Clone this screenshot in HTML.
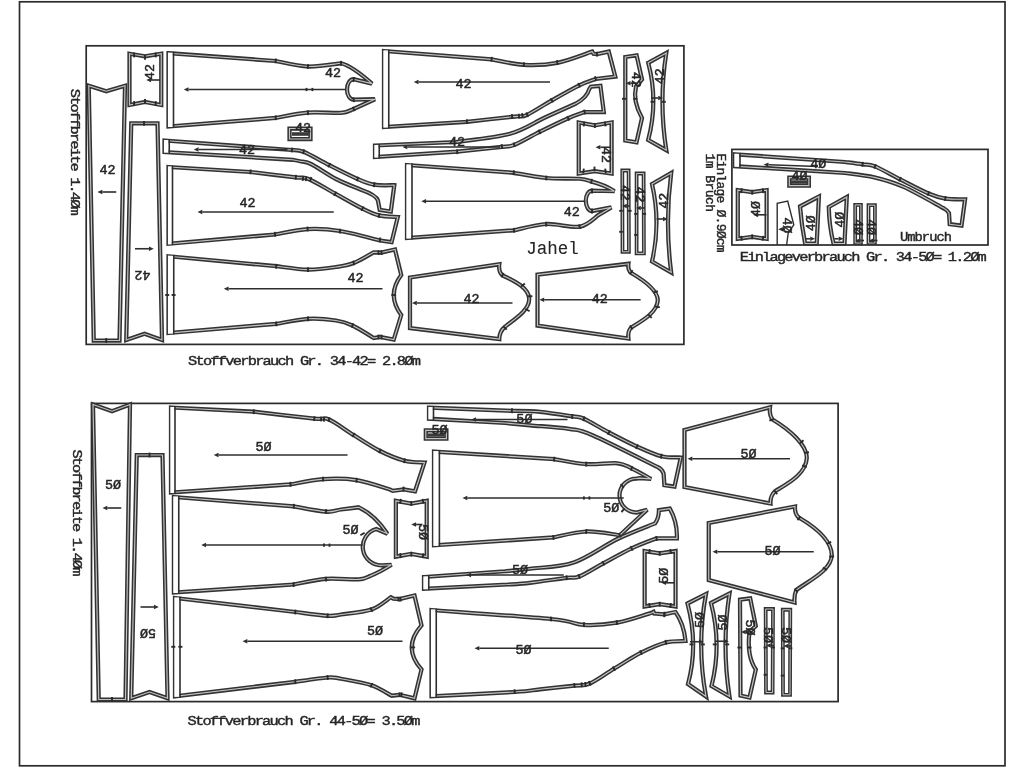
<!DOCTYPE html>
<html><head><meta charset="utf-8"><style>
html,body{margin:0;padding:0;background:#fff;width:1024px;height:768px;overflow:hidden}
svg{display:block;filter:blur(0.35px)}
.t{font-family:"Liberation Mono",monospace;fill:#262626;stroke:#262626;stroke-width:0.5}
.fr{fill:none;stroke:#2b2b2b;stroke-width:1.7}
.o{fill:none;stroke:#333;stroke-width:4.25;stroke-linejoin:miter;stroke-miterlimit:3}
.i{fill:none;stroke:#c4c4c4;stroke-width:1.15;stroke-linejoin:miter;stroke-miterlimit:3}
.l{fill:none;stroke:#2e2e2e;stroke-width:1.6}
.s{fill:none;stroke:#2e2e2e;stroke-width:1.4}
.ar{fill:#2e2e2e}
.tk{stroke:#2a2a2a;stroke-width:1.9;fill:none}
.o.n{stroke-width:3.8}
.i.n2{stroke-width:1.0}
</style></head><body>
<svg width="1024" height="768" viewBox="0 0 1024 768">

<rect class="fr" x="19.5" y="1.8" width="985.5" height="764"/>
<rect class="fr" x="86.2" y="45.8" width="597.7" height="298.6"/>
<rect class="fr" x="731.9" y="149.4" width="256.1" height="95.6"/>
<rect class="fr" x="91.5" y="403.4" width="746.6" height="298.2"/>
<g class="o">
<path d="M88.75,85.75 L106.25,91.25 L125,85.75 L119.5,340.5 L93.75,340.5 Z"/>
<path d="M129.5,53.75 L145,56.25 L161.25,53.75 L161.25,105 L145,102 L129.5,105 Z"/>
<path d="M168.5,53.2 L275.7,61 C281.07,61.92 297.02,66.12 307.90,66.50 C318.78,66.88 335.48,63.83 341.00,63.30 Q352,66 372,83.6 L353.5,79.2 A6.5,10.25 0 0 0 353.5,99.7 L375,99.2 L352.5,109.5 C350.55,110.07 348.23,112.38 340.80,112.90 C333.37,113.42 318.75,111.77 307.90,112.60 C297.05,113.43 281.07,117.02 275.70,117.90 L168.5,126.5 Z"/>
<path d="M131.25,123.25 L157.5,123.25 L162,340 L144.5,333.75 L126.25,340 Z"/>
<path d="M164.5,140.5 L292,150 C293.93,150.30 297.38,149.27 303.60,151.80 C309.82,154.33 320.30,160.67 329.30,165.20 C338.30,169.73 350.12,175.75 357.60,179.00 C365.08,182.25 368.08,183.67 374.20,184.70 C380.32,185.73 390.95,185.12 394.30,185.20 L390.8,211.5 L379.7,209.8 L377.9,200.4 Q376,195 361,189.8 C356.83,188.00 344.33,183.30 336.00,179.00 C327.67,174.70 317.00,166.97 311.00,164.00 C305.00,161.03 303.08,161.90 300.00,161.20 C296.92,160.50 293.75,160.03 292.50,159.80 L164.5,152 Z"/>
<path d="M289.5,128.5 L310.5,128.5 L310.5,139 L289.5,139 Z"/>
<path d="M168.5,167 L250.5,172 C258.05,172.90 286.13,176.23 295.80,177.40 C305.47,178.57 301.93,176.30 308.50,179.00 C315.07,181.70 326.20,188.67 335.20,193.60 C344.20,198.53 355.18,204.97 362.50,208.60 C369.82,212.23 373.22,214.00 379.10,215.40 C384.98,216.80 394.68,216.73 397.80,217.00 L391.6,242.2 L380,240.5 C373.33,238.92 352.03,232.90 340.00,231.00 C327.97,229.10 318.63,228.52 307.80,229.10 C296.97,229.68 280.47,233.60 275.00,234.50 L168.5,243.75 Z"/>
<path d="M168.5,256.25 L276.25,266.2 C281.54,266.77 298.04,269.47 308.00,269.60 C317.96,269.73 328.38,268.10 336.00,267.00 C343.62,265.90 347.41,265.45 353.70,263.00 C359.99,260.55 370.41,254.08 373.75,252.30 L381.25,252.5 L395,249.5 L401.25,275 Q386.3,295 401.25,315 L393.75,339.5 L380,337 L373.75,338 C370.21,335.92 358.79,328.42 352.50,325.50 C346.21,322.58 343.42,321.62 336.00,320.50 C328.58,319.38 317.96,318.23 308.00,318.80 C298.04,319.37 281.54,323.05 276.25,323.90 L168.5,333 Z"/>
<path d="M384,51 L491.6,59.4 C496.97,60.30 512.85,64.23 523.80,64.80 C534.75,65.37 545.90,65.00 557.30,62.80 C568.70,60.60 586.38,53.47 592.20,51.60 L593.5,53.8 L597,54.1 L608.75,51.6 L615.3,76.6 L595.6,79 C592.87,80.07 586.50,81.83 579.20,85.40 C571.90,88.97 560.47,95.50 551.80,100.40 C543.13,105.30 532.67,112.13 527.20,114.80 C521.73,117.47 521.52,116.07 519.00,116.40 C516.48,116.73 520.77,115.90 512.10,116.80 C503.43,117.70 474.52,120.97 467.00,121.80 L384,127 Z"/>
<path d="M375,145.5 L456.25,142 C465.21,140.62 495.21,137.83 510.00,133.75 C524.79,129.67 534.00,122.54 545.00,117.50 C556.00,112.46 570.83,105.83 576.00,103.50 Q587,97.5 589.4,88.8 L590.8,86.7 L600.4,85.8 L603.8,112 L584.6,112 C581.87,113.03 575.72,114.88 568.20,118.20 C560.68,121.52 548.50,127.45 539.50,131.90 C530.50,136.35 520.47,142.40 514.20,144.90 C507.93,147.40 511.40,145.78 501.90,146.90 C492.40,148.02 464.65,150.82 457.20,151.60 L375,157 Z"/>
<path d="M407,165 L513.75,172.8 C519.17,173.67 535.27,177.01 546.25,178.00 C557.23,178.99 572.14,178.18 579.60,178.75 C587.06,179.32 589.10,180.96 591.00,181.40 Q605,185 614.5,191.25 L592,190.7 A6.2,10.15 0 0 0 592,211 L611.4,207.4 L598.3,215.2 C595.18,217.12 588.27,225.23 579.60,226.70 C570.93,228.17 557.18,223.40 546.25,224.00 C535.32,224.60 519.38,229.25 514.00,230.30 L407,238 Z"/>
<path d="M410,277.5 L499.3,264.3 Q498.3,272 502.6,275.5 C515,281 529,288 529.2,299 C529.2,311 513,320 505.3,326.5 Q499.5,331 499.3,339 L410,328 Z"/>
<path d="M537.5,274.6 L628.4,263.8 Q627.5,270 631.25,273 C645,281 657.5,290 657.8,300 C657.5,313 640,322 631.25,327.5 Q627.5,331 628.4,338.5 L537.5,325.6 Z"/>
<path d="M578.75,122.5 L594.7,125.3 L611.6,122.5 L611.6,173.5 L594.7,171.25 L578.75,173.5 Z"/>
<path d="M625.3,57 L636.6,55.3 L642,79.5 L636,86.5 Q632.5,101 642,118 L636.5,142.3 L625.3,140.5 Z"/>
<path d="M648.2,62.8 L666.3,53 Q658.6,101 666.3,150.2 L648.2,140 Q658.5,101 648.2,62.8 Z"/>
<path d="M652,184 L671.2,173 Q664.7,222.5 671.2,272.5 L652,261.5 Q661,222.5 652,184 Z"/>
<path d="M735,154.3 L845,162 C847.93,162.38 857.60,163.57 862.60,164.30 C867.60,165.03 868.77,163.90 875.00,166.40 C881.23,168.90 891.08,174.78 900.00,179.30 C908.92,183.82 920.95,190.28 928.50,193.50 C936.05,196.72 939.20,197.63 945.30,198.60 C951.40,199.57 961.80,199.18 965.10,199.30 L961.5,225.7 L949.7,224.2 L949,213.2 Q947,210 944.6,208.8 C937.77,205.15 915.32,192.13 903.60,186.90 C891.88,181.67 884.07,179.72 874.30,177.40 C864.53,175.08 849.88,173.73 845.00,173.00 L735,166.2 Z"/>
<path d="M789.3,177.6 L808.9,177.6 L808.9,185.6 L789.3,185.6 Z"/>
<path d="M737.8,190.1 L752.2,192.2 L766.6,190.1 L766.6,238.9 L752.2,236.8 L737.8,238.9 Z"/>
<path d="M800,206.5 L818.9,196.5 L816.7,243.5 L805.1,243.5 Q801.5,225 800,206.5 Z"/>
<path d="M828.8,207 L846.8,197 L844.5,243.5 L833.5,243.5 Q829,225 828.8,207 Z"/>
<path d="M93,404.5 L112,411.25 L130,404.5 L125.5,699.5 L98.75,699.5 Z"/>
<path d="M136.75,455 L162.5,455 L167.5,698.25 L149.5,692 L131.25,698.25 Z"/>
<path d="M171,407.5 L253.75,411.7 C263.84,412.85 301.76,417.30 314.30,418.60 C326.84,419.90 322.47,416.77 329.00,419.50 C335.53,422.23 345.00,429.75 353.50,435.00 C362.00,440.25 371.50,446.72 380.00,451.00 C388.50,455.28 397.08,458.78 404.50,460.70 C411.92,462.62 421.17,462.20 424.50,462.50 L415,491.25 L403.75,489.5 L392.7,490.8 L390,489.5 C384.43,487.93 367.75,481.83 356.60,480.10 C345.45,478.37 334.12,478.38 323.10,479.10 C312.08,479.82 295.93,483.52 290.50,484.40 L171,492.5 Z"/>
<path d="M173.9,497 L293.8,506.4 C299.17,507.28 318.13,511.18 326.00,511.70 C333.87,512.22 335.55,510.23 341.00,509.50 C346.45,508.77 355.75,507.67 358.70,507.30 Q375,515 387.4,533.7 L376.3,529 A18.5,18.5 0 0 0 382.1,565.3 L391.5,564.75 Q380,572 370.4,575.9 C368.45,576.48 366.12,578.92 358.70,579.40 C351.28,579.88 336.75,577.95 325.90,578.80 C315.05,579.65 298.98,583.55 293.60,584.50 L173.9,592.5 Z"/>
<path d="M175,598 L295.3,612 C300.68,612.63 319.98,615.38 327.60,615.80 C335.22,616.22 333.70,615.53 341.00,614.50 C348.30,613.47 363.10,612.47 371.40,609.60 C379.70,606.73 387.57,599.35 390.80,597.30 L393.4,598.7 L399.5,599.1 L414.5,595.5 L421.5,625.4 Q402,647.5 421.5,669.4 L414.5,698.4 L399.5,694.8 L391.6,695.7 C388.23,693.95 379.83,688.03 371.40,685.20 C362.97,682.38 348.30,680.03 341.00,678.75 C333.70,677.47 335.22,676.99 327.60,677.50 C319.98,678.01 300.68,681.08 295.30,681.80 L175,696.25 Z"/>
<path d="M395.9,500.9 L411.25,503.6 L426.7,500.9 L426.7,556.6 L411.25,553.9 L395.9,556.6 Z"/>
<path d="M425.8,430.3 L446.4,430.3 L446.4,438.6 L425.8,438.6 Z"/>
<path d="M429,407.6 L512,410.9 C516.67,411.05 529.97,410.88 540.00,411.80 C550.03,412.72 564.88,415.24 572.20,416.40 C579.52,417.56 577.78,416.07 583.90,418.75 C590.02,421.43 600.05,427.86 608.90,432.50 C617.75,437.14 628.27,442.64 637.00,446.60 C645.73,450.56 653.95,454.43 661.25,456.25 C668.55,458.07 677.54,457.29 680.80,457.50 L674.5,486.7 L664.4,485.2 L663.6,473.4 Q662,469 658,467.2 C647.08,461.87 607.33,441.58 592.50,435.20 C577.67,428.82 579.42,430.55 569.00,428.90 C558.58,427.25 540.67,426.28 530.00,425.30 C519.33,424.32 509.17,423.38 505.00,423.00 L429,418.7 Z"/>
<path d="M434,451.6 L554.2,459.1 C559.54,459.93 575.70,463.40 586.25,464.10 C596.80,464.80 609.94,462.58 617.50,463.30 C625.06,464.02 626.00,465.80 631.60,468.40 C637.20,471.00 647.85,477.15 651.10,478.90 L639.4,478.1 L636.5,478.5 A17,17 0 0 0 636.5,512.5 L647.2,509.7 L619.8,535.2 C614.21,534.58 597.32,531.13 586.25,531.50 C575.18,531.87 558.88,536.42 553.40,537.40 L434,545.3 Z"/>
<path d="M424,577 L505,571.25 C509.17,570.83 518.54,570.21 530.00,568.75 C541.46,567.29 559.17,567.46 573.75,562.50 C588.33,557.54 603.96,545.52 617.50,539.00 C631.04,532.48 648.75,526.00 655.00,523.40 Q659,518 658.9,510.2 L669.8,508.6 Q677.5,522 676.9,538.3 L656.6,538.3 C652.43,539.98 640.47,544.23 631.60,548.40 C622.73,552.57 612.13,558.60 603.40,563.30 C594.67,568.00 585.32,574.18 579.20,576.60 C573.08,579.02 574.90,576.77 566.70,577.80 C558.50,578.83 539.87,581.68 530.00,582.80 C520.13,583.92 511.25,584.22 507.50,584.50 L424,588.75 Z"/>
<path d="M431.5,610 C451.42,611.50 525.60,616.52 551.00,619.00 C576.40,621.48 572.92,624.28 583.90,624.90 C594.88,625.52 606.17,624.53 616.90,622.70 C627.63,620.87 642.20,615.73 648.30,613.90 C654.40,612.07 652.63,612.07 653.50,611.70 L654.2,613.5 L664.4,614.3 L675.4,612 Q684,624 685.5,641 C682.23,641.25 673.32,640.55 665.90,642.50 C658.48,644.45 649.67,648.32 641.00,652.70 C632.33,657.08 622.43,663.67 613.90,668.80 C605.37,673.93 596.38,680.68 589.80,683.50 C583.22,686.32 582.70,684.73 574.40,685.70 C566.10,686.67 549.90,688.25 540.00,689.30 C530.10,690.35 533.08,690.84 515.00,692.00 C496.92,693.16 445.42,695.54 431.50,696.25 Z"/>
<path d="M684.5,430 L770,407.3 Q769,415 772.5,419.5 C790,430 807,445 806.8,458 C806,475 785,485 775,491.25 Q770,496 770.5,503.5 L684.5,487 Z"/>
<path d="M708.75,523 L795,506.5 Q794.5,514 798.75,517.5 C815,527 831.5,540 831.8,555 C831.5,570 810,580 796.25,590 Q794,595 794.5,602.5 L708.75,580 Z"/>
<path d="M644.65,551.05 L659.7,553.35 L675.55,551.05 L675.55,606.45 L659.7,604.15 L644.65,606.45 Z"/>
<path d="M687.5,603.5 L706,594 Q696.4,645 706,696.5 L688,684 Q698.6,645 687.5,603.5 Z"/>
<path d="M711,603 L729.5,593.5 Q721.5,645 729.5,696.5 L711.5,686 Q722,645 711,603 Z"/>
<path d="M740,599.7 L750.2,598.3 L755.8,626 L749.5,632 Q746.5,656 755.8,669.5 L749.5,697.5 L740.5,695.5 Z"/>
</g><g class="o n">
<path d="M622.3,170.5 L628.6,170.5 L628.9,251.8 L622.5,251.8 Z"/>
<path d="M636.6,173.5 L643.6,173.5 L643.9,253.4 L636.6,253.4 Z"/>
<path d="M855.2,204.9 L860.9,204.9 L860.9,243 L855.2,243 Z"/>
<path d="M868.5,205.2 L874.9,205.2 L874.9,243 L868.5,243 Z"/>
<path d="M765.65,609 L773,609 L772.6,692.5 L766,692.5 Z"/>
<path d="M782.75,609.75 L790.3,609.75 L790,694.8 L783,694.8 Z"/>
</g><g class="i">
<path d="M88.75,85.75 L106.25,91.25 L125,85.75 L119.5,340.5 L93.75,340.5 Z"/>
<path d="M129.5,53.75 L145,56.25 L161.25,53.75 L161.25,105 L145,102 L129.5,105 Z"/>
<path d="M168.5,53.2 L275.7,61 C281.07,61.92 297.02,66.12 307.90,66.50 C318.78,66.88 335.48,63.83 341.00,63.30 Q352,66 372,83.6 L353.5,79.2 A6.5,10.25 0 0 0 353.5,99.7 L375,99.2 L352.5,109.5 C350.55,110.07 348.23,112.38 340.80,112.90 C333.37,113.42 318.75,111.77 307.90,112.60 C297.05,113.43 281.07,117.02 275.70,117.90 L168.5,126.5 Z"/>
<path d="M131.25,123.25 L157.5,123.25 L162,340 L144.5,333.75 L126.25,340 Z"/>
<path d="M164.5,140.5 L292,150 C293.93,150.30 297.38,149.27 303.60,151.80 C309.82,154.33 320.30,160.67 329.30,165.20 C338.30,169.73 350.12,175.75 357.60,179.00 C365.08,182.25 368.08,183.67 374.20,184.70 C380.32,185.73 390.95,185.12 394.30,185.20 L390.8,211.5 L379.7,209.8 L377.9,200.4 Q376,195 361,189.8 C356.83,188.00 344.33,183.30 336.00,179.00 C327.67,174.70 317.00,166.97 311.00,164.00 C305.00,161.03 303.08,161.90 300.00,161.20 C296.92,160.50 293.75,160.03 292.50,159.80 L164.5,152 Z"/>
<path d="M289.5,128.5 L310.5,128.5 L310.5,139 L289.5,139 Z"/>
<path d="M168.5,167 L250.5,172 C258.05,172.90 286.13,176.23 295.80,177.40 C305.47,178.57 301.93,176.30 308.50,179.00 C315.07,181.70 326.20,188.67 335.20,193.60 C344.20,198.53 355.18,204.97 362.50,208.60 C369.82,212.23 373.22,214.00 379.10,215.40 C384.98,216.80 394.68,216.73 397.80,217.00 L391.6,242.2 L380,240.5 C373.33,238.92 352.03,232.90 340.00,231.00 C327.97,229.10 318.63,228.52 307.80,229.10 C296.97,229.68 280.47,233.60 275.00,234.50 L168.5,243.75 Z"/>
<path d="M168.5,256.25 L276.25,266.2 C281.54,266.77 298.04,269.47 308.00,269.60 C317.96,269.73 328.38,268.10 336.00,267.00 C343.62,265.90 347.41,265.45 353.70,263.00 C359.99,260.55 370.41,254.08 373.75,252.30 L381.25,252.5 L395,249.5 L401.25,275 Q386.3,295 401.25,315 L393.75,339.5 L380,337 L373.75,338 C370.21,335.92 358.79,328.42 352.50,325.50 C346.21,322.58 343.42,321.62 336.00,320.50 C328.58,319.38 317.96,318.23 308.00,318.80 C298.04,319.37 281.54,323.05 276.25,323.90 L168.5,333 Z"/>
<path d="M384,51 L491.6,59.4 C496.97,60.30 512.85,64.23 523.80,64.80 C534.75,65.37 545.90,65.00 557.30,62.80 C568.70,60.60 586.38,53.47 592.20,51.60 L593.5,53.8 L597,54.1 L608.75,51.6 L615.3,76.6 L595.6,79 C592.87,80.07 586.50,81.83 579.20,85.40 C571.90,88.97 560.47,95.50 551.80,100.40 C543.13,105.30 532.67,112.13 527.20,114.80 C521.73,117.47 521.52,116.07 519.00,116.40 C516.48,116.73 520.77,115.90 512.10,116.80 C503.43,117.70 474.52,120.97 467.00,121.80 L384,127 Z"/>
<path d="M375,145.5 L456.25,142 C465.21,140.62 495.21,137.83 510.00,133.75 C524.79,129.67 534.00,122.54 545.00,117.50 C556.00,112.46 570.83,105.83 576.00,103.50 Q587,97.5 589.4,88.8 L590.8,86.7 L600.4,85.8 L603.8,112 L584.6,112 C581.87,113.03 575.72,114.88 568.20,118.20 C560.68,121.52 548.50,127.45 539.50,131.90 C530.50,136.35 520.47,142.40 514.20,144.90 C507.93,147.40 511.40,145.78 501.90,146.90 C492.40,148.02 464.65,150.82 457.20,151.60 L375,157 Z"/>
<path d="M407,165 L513.75,172.8 C519.17,173.67 535.27,177.01 546.25,178.00 C557.23,178.99 572.14,178.18 579.60,178.75 C587.06,179.32 589.10,180.96 591.00,181.40 Q605,185 614.5,191.25 L592,190.7 A6.2,10.15 0 0 0 592,211 L611.4,207.4 L598.3,215.2 C595.18,217.12 588.27,225.23 579.60,226.70 C570.93,228.17 557.18,223.40 546.25,224.00 C535.32,224.60 519.38,229.25 514.00,230.30 L407,238 Z"/>
<path d="M410,277.5 L499.3,264.3 Q498.3,272 502.6,275.5 C515,281 529,288 529.2,299 C529.2,311 513,320 505.3,326.5 Q499.5,331 499.3,339 L410,328 Z"/>
<path d="M537.5,274.6 L628.4,263.8 Q627.5,270 631.25,273 C645,281 657.5,290 657.8,300 C657.5,313 640,322 631.25,327.5 Q627.5,331 628.4,338.5 L537.5,325.6 Z"/>
<path d="M578.75,122.5 L594.7,125.3 L611.6,122.5 L611.6,173.5 L594.7,171.25 L578.75,173.5 Z"/>
<path d="M625.3,57 L636.6,55.3 L642,79.5 L636,86.5 Q632.5,101 642,118 L636.5,142.3 L625.3,140.5 Z"/>
<path d="M648.2,62.8 L666.3,53 Q658.6,101 666.3,150.2 L648.2,140 Q658.5,101 648.2,62.8 Z"/>
<path d="M652,184 L671.2,173 Q664.7,222.5 671.2,272.5 L652,261.5 Q661,222.5 652,184 Z"/>
<path d="M735,154.3 L845,162 C847.93,162.38 857.60,163.57 862.60,164.30 C867.60,165.03 868.77,163.90 875.00,166.40 C881.23,168.90 891.08,174.78 900.00,179.30 C908.92,183.82 920.95,190.28 928.50,193.50 C936.05,196.72 939.20,197.63 945.30,198.60 C951.40,199.57 961.80,199.18 965.10,199.30 L961.5,225.7 L949.7,224.2 L949,213.2 Q947,210 944.6,208.8 C937.77,205.15 915.32,192.13 903.60,186.90 C891.88,181.67 884.07,179.72 874.30,177.40 C864.53,175.08 849.88,173.73 845.00,173.00 L735,166.2 Z"/>
<path d="M789.3,177.6 L808.9,177.6 L808.9,185.6 L789.3,185.6 Z"/>
<path d="M737.8,190.1 L752.2,192.2 L766.6,190.1 L766.6,238.9 L752.2,236.8 L737.8,238.9 Z"/>
<path d="M800,206.5 L818.9,196.5 L816.7,243.5 L805.1,243.5 Q801.5,225 800,206.5 Z"/>
<path d="M828.8,207 L846.8,197 L844.5,243.5 L833.5,243.5 Q829,225 828.8,207 Z"/>
<path d="M93,404.5 L112,411.25 L130,404.5 L125.5,699.5 L98.75,699.5 Z"/>
<path d="M136.75,455 L162.5,455 L167.5,698.25 L149.5,692 L131.25,698.25 Z"/>
<path d="M171,407.5 L253.75,411.7 C263.84,412.85 301.76,417.30 314.30,418.60 C326.84,419.90 322.47,416.77 329.00,419.50 C335.53,422.23 345.00,429.75 353.50,435.00 C362.00,440.25 371.50,446.72 380.00,451.00 C388.50,455.28 397.08,458.78 404.50,460.70 C411.92,462.62 421.17,462.20 424.50,462.50 L415,491.25 L403.75,489.5 L392.7,490.8 L390,489.5 C384.43,487.93 367.75,481.83 356.60,480.10 C345.45,478.37 334.12,478.38 323.10,479.10 C312.08,479.82 295.93,483.52 290.50,484.40 L171,492.5 Z"/>
<path d="M173.9,497 L293.8,506.4 C299.17,507.28 318.13,511.18 326.00,511.70 C333.87,512.22 335.55,510.23 341.00,509.50 C346.45,508.77 355.75,507.67 358.70,507.30 Q375,515 387.4,533.7 L376.3,529 A18.5,18.5 0 0 0 382.1,565.3 L391.5,564.75 Q380,572 370.4,575.9 C368.45,576.48 366.12,578.92 358.70,579.40 C351.28,579.88 336.75,577.95 325.90,578.80 C315.05,579.65 298.98,583.55 293.60,584.50 L173.9,592.5 Z"/>
<path d="M175,598 L295.3,612 C300.68,612.63 319.98,615.38 327.60,615.80 C335.22,616.22 333.70,615.53 341.00,614.50 C348.30,613.47 363.10,612.47 371.40,609.60 C379.70,606.73 387.57,599.35 390.80,597.30 L393.4,598.7 L399.5,599.1 L414.5,595.5 L421.5,625.4 Q402,647.5 421.5,669.4 L414.5,698.4 L399.5,694.8 L391.6,695.7 C388.23,693.95 379.83,688.03 371.40,685.20 C362.97,682.38 348.30,680.03 341.00,678.75 C333.70,677.47 335.22,676.99 327.60,677.50 C319.98,678.01 300.68,681.08 295.30,681.80 L175,696.25 Z"/>
<path d="M395.9,500.9 L411.25,503.6 L426.7,500.9 L426.7,556.6 L411.25,553.9 L395.9,556.6 Z"/>
<path d="M425.8,430.3 L446.4,430.3 L446.4,438.6 L425.8,438.6 Z"/>
<path d="M429,407.6 L512,410.9 C516.67,411.05 529.97,410.88 540.00,411.80 C550.03,412.72 564.88,415.24 572.20,416.40 C579.52,417.56 577.78,416.07 583.90,418.75 C590.02,421.43 600.05,427.86 608.90,432.50 C617.75,437.14 628.27,442.64 637.00,446.60 C645.73,450.56 653.95,454.43 661.25,456.25 C668.55,458.07 677.54,457.29 680.80,457.50 L674.5,486.7 L664.4,485.2 L663.6,473.4 Q662,469 658,467.2 C647.08,461.87 607.33,441.58 592.50,435.20 C577.67,428.82 579.42,430.55 569.00,428.90 C558.58,427.25 540.67,426.28 530.00,425.30 C519.33,424.32 509.17,423.38 505.00,423.00 L429,418.7 Z"/>
<path d="M434,451.6 L554.2,459.1 C559.54,459.93 575.70,463.40 586.25,464.10 C596.80,464.80 609.94,462.58 617.50,463.30 C625.06,464.02 626.00,465.80 631.60,468.40 C637.20,471.00 647.85,477.15 651.10,478.90 L639.4,478.1 L636.5,478.5 A17,17 0 0 0 636.5,512.5 L647.2,509.7 L619.8,535.2 C614.21,534.58 597.32,531.13 586.25,531.50 C575.18,531.87 558.88,536.42 553.40,537.40 L434,545.3 Z"/>
<path d="M424,577 L505,571.25 C509.17,570.83 518.54,570.21 530.00,568.75 C541.46,567.29 559.17,567.46 573.75,562.50 C588.33,557.54 603.96,545.52 617.50,539.00 C631.04,532.48 648.75,526.00 655.00,523.40 Q659,518 658.9,510.2 L669.8,508.6 Q677.5,522 676.9,538.3 L656.6,538.3 C652.43,539.98 640.47,544.23 631.60,548.40 C622.73,552.57 612.13,558.60 603.40,563.30 C594.67,568.00 585.32,574.18 579.20,576.60 C573.08,579.02 574.90,576.77 566.70,577.80 C558.50,578.83 539.87,581.68 530.00,582.80 C520.13,583.92 511.25,584.22 507.50,584.50 L424,588.75 Z"/>
<path d="M431.5,610 C451.42,611.50 525.60,616.52 551.00,619.00 C576.40,621.48 572.92,624.28 583.90,624.90 C594.88,625.52 606.17,624.53 616.90,622.70 C627.63,620.87 642.20,615.73 648.30,613.90 C654.40,612.07 652.63,612.07 653.50,611.70 L654.2,613.5 L664.4,614.3 L675.4,612 Q684,624 685.5,641 C682.23,641.25 673.32,640.55 665.90,642.50 C658.48,644.45 649.67,648.32 641.00,652.70 C632.33,657.08 622.43,663.67 613.90,668.80 C605.37,673.93 596.38,680.68 589.80,683.50 C583.22,686.32 582.70,684.73 574.40,685.70 C566.10,686.67 549.90,688.25 540.00,689.30 C530.10,690.35 533.08,690.84 515.00,692.00 C496.92,693.16 445.42,695.54 431.50,696.25 Z"/>
<path d="M684.5,430 L770,407.3 Q769,415 772.5,419.5 C790,430 807,445 806.8,458 C806,475 785,485 775,491.25 Q770,496 770.5,503.5 L684.5,487 Z"/>
<path d="M708.75,523 L795,506.5 Q794.5,514 798.75,517.5 C815,527 831.5,540 831.8,555 C831.5,570 810,580 796.25,590 Q794,595 794.5,602.5 L708.75,580 Z"/>
<path d="M644.65,551.05 L659.7,553.35 L675.55,551.05 L675.55,606.45 L659.7,604.15 L644.65,606.45 Z"/>
<path d="M687.5,603.5 L706,594 Q696.4,645 706,696.5 L688,684 Q698.6,645 687.5,603.5 Z"/>
<path d="M711,603 L729.5,593.5 Q721.5,645 729.5,696.5 L711.5,686 Q722,645 711,603 Z"/>
<path d="M740,599.7 L750.2,598.3 L755.8,626 L749.5,632 Q746.5,656 755.8,669.5 L749.5,697.5 L740.5,695.5 Z"/>
</g><g class="i n2">
<path d="M622.3,170.5 L628.6,170.5 L628.9,251.8 L622.5,251.8 Z"/>
<path d="M636.6,173.5 L643.6,173.5 L643.9,253.4 L636.6,253.4 Z"/>
<path d="M855.2,204.9 L860.9,204.9 L860.9,243 L855.2,243 Z"/>
<path d="M868.5,205.2 L874.9,205.2 L874.9,243 L868.5,243 Z"/>
<path d="M765.65,609 L773,609 L772.6,692.5 L766,692.5 Z"/>
<path d="M782.75,609.75 L790.3,609.75 L790,694.8 L783,694.8 Z"/>
</g>
<rect x="168.00" y="52.70" width="4.80" height="74.30" fill="#fff"/>
<path class="l" d="M173.5,51.80 L173.5,127.90"/>
<rect x="164.00" y="140.00" width="4.55" height="12.50" fill="#fff"/>
<path class="l" d="M169.25,139.10 L169.25,153.40"/>
<rect x="168.00" y="166.50" width="3.80" height="77.75" fill="#fff"/>
<path class="l" d="M172.5,165.60 L172.5,245.15"/>
<rect x="168.00" y="255.75" width="5.05" height="77.75" fill="#fff"/>
<path class="l" d="M173.75,254.85 L173.75,334.40"/>
<rect x="383.50" y="50.50" width="4.55" height="77.00" fill="#fff"/>
<path class="l" d="M388.75,49.60 L388.75,128.40"/>
<rect x="374.50" y="145.00" width="4.05" height="12.50" fill="#fff"/>
<path class="l" d="M379.25,144.10 L379.25,158.40"/>
<rect x="406.50" y="164.50" width="4.80" height="74.00" fill="#fff"/>
<path class="l" d="M412,163.60 L412,239.40"/>
<rect x="734.50" y="153.80" width="4.80" height="12.90" fill="#fff"/>
<path class="l" d="M740,152.90 L740,167.60"/>
<rect x="170.50" y="407.00" width="3.80" height="86.00" fill="#fff"/>
<path class="l" d="M175,406.10 L175,493.90"/>
<rect x="173.40" y="496.50" width="4.65" height="96.50" fill="#fff"/>
<path class="l" d="M178.75,495.60 L178.75,593.90"/>
<rect x="174.50" y="597.50" width="4.80" height="99.25" fill="#fff"/>
<path class="l" d="M180,596.60 L180,697.65"/>
<rect x="428.50" y="407.10" width="4.30" height="12.10" fill="#fff"/>
<path class="l" d="M433.5,406.20 L433.5,420.10"/>
<rect x="433.50" y="451.10" width="5.20" height="94.70" fill="#fff"/>
<path class="l" d="M439.4,450.20 L439.4,546.70"/>
<rect x="423.50" y="576.50" width="4.55" height="12.75" fill="#fff"/>
<path class="l" d="M428.75,575.60 L428.75,590.15"/>
<rect x="431.00" y="609.50" width="4.55" height="87.25" fill="#fff"/>
<path class="l" d="M436.25,608.60 L436.25,697.65"/>
<rect x="790.5" y="180.3" width="17" height="3.4" fill="#3a3a3a"/>
<rect x="428" y="433.4" width="16.5" height="3.2" fill="#3a3a3a"/>
<rect x="292" y="132.2" width="17.5" height="3.6" fill="#3a3a3a"/>
<path class="s" d="M777.2,245 L777.2,203.2 L787.7,201 L793.8,224.8 L788.3,232.5 L786.6,245"/>
<path class="tk" d="M134.10,52.60 L134.10,57.40"/>
<path class="tk" d="M145.00,54.90 L145.00,59.70"/>
<path class="tk" d="M155.70,52.60 L155.70,57.40"/>
<path class="tk" d="M134.10,101.10 L134.10,105.90"/>
<path class="tk" d="M145.00,99.10 L145.00,103.90"/>
<path class="tk" d="M155.70,101.10 L155.70,105.90"/>
<path class="tk" d="M275.87,58.51 L275.53,63.29"/>
<path class="tk" d="M308.23,64.12 L307.57,68.88"/>
<path class="tk" d="M340.87,60.90 L341.13,65.70"/>
<path class="tk" d="M275.53,115.41 L275.87,120.19"/>
<path class="tk" d="M307.77,110.30 L308.03,115.10"/>
<path class="tk" d="M352.69,106.82 L354.71,111.18"/>
<path class="tk" d="M354.32,77.28 L353.08,81.92"/>
<path class="tk" d="M353.28,97.34 L354.12,102.06"/>
<path class="tk" d="M144.00,120.90 L144.00,125.70"/>
<path class="tk" d="M106.25,338.10 L106.25,342.90"/>
<path class="tk" d="M292.33,147.62 L291.67,152.38"/>
<path class="tk" d="M304.02,149.44 L303.18,154.16"/>
<path class="tk" d="M330.43,163.08 L328.17,167.32"/>
<path class="tk" d="M358.50,176.77 L356.70,181.23"/>
<path class="tk" d="M374.53,182.32 L373.87,187.08"/>
<path class="tk" d="M250.67,169.51 L250.33,174.29"/>
<path class="tk" d="M296.09,174.92 L295.51,179.68"/>
<path class="tk" d="M303.33,176.02 L302.67,180.78"/>
<path class="tk" d="M306.33,176.42 L305.67,181.18"/>
<path class="tk" d="M311.32,176.88 L310.08,181.52"/>
<path class="tk" d="M336.40,191.72 L334.00,195.88"/>
<path class="tk" d="M363.51,206.42 L361.49,210.78"/>
<path class="tk" d="M379.52,213.04 L378.68,217.76"/>
<path class="tk" d="M274.79,231.91 L275.21,236.69"/>
<path class="tk" d="M307.47,226.60 L307.73,231.40"/>
<path class="tk" d="M340.21,228.71 L339.79,233.49"/>
<path class="tk" d="M380.42,237.54 L379.58,242.26"/>
<path class="tk" d="M276.46,263.81 L276.04,268.59"/>
<path class="tk" d="M308.13,267.20 L307.87,272.00"/>
<path class="tk" d="M353.08,260.68 L354.32,265.32"/>
<path class="tk" d="M378.29,250.21 L378.71,254.99"/>
<path class="tk" d="M381.29,250.21 L381.71,254.99"/>
<path class="tk" d="M396.15,295.00 L391.35,295.00"/>
<path class="tk" d="M276.04,321.51 L276.46,326.29"/>
<path class="tk" d="M307.87,316.40 L308.13,321.20"/>
<path class="tk" d="M353.12,323.18 L351.88,327.82"/>
<path class="tk" d="M378.29,334.61 L378.71,339.39"/>
<path class="tk" d="M381.29,334.61 L381.71,339.39"/>
<path class="tk" d="M169.20,295.00 L165.20,295.00"/>
<path class="tk" d="M175.60,295.00 L171.60,295.00"/>
<path class="tk" d="M491.81,56.81 L491.39,61.59"/>
<path class="tk" d="M523.93,62.20 L523.67,67.00"/>
<path class="tk" d="M556.97,60.22 L557.63,64.98"/>
<path class="tk" d="M596.79,51.71 L597.21,56.49"/>
<path class="tk" d="M594.98,76.28 L596.22,80.92"/>
<path class="tk" d="M578.19,83.02 L580.21,87.38"/>
<path class="tk" d="M550.60,98.22 L553.00,102.38"/>
<path class="tk" d="M526.38,112.34 L528.02,116.86"/>
<path class="tk" d="M522.07,113.22 L522.73,117.98"/>
<path class="tk" d="M518.79,113.71 L519.21,118.49"/>
<path class="tk" d="M511.89,114.11 L512.31,118.89"/>
<path class="tk" d="M466.79,119.21 L467.21,123.99"/>
<path class="tk" d="M584.18,109.64 L585.02,114.36"/>
<path class="tk" d="M567.30,116.17 L569.10,120.63"/>
<path class="tk" d="M538.41,129.76 L540.59,134.04"/>
<path class="tk" d="M513.58,142.48 L514.82,147.12"/>
<path class="tk" d="M501.57,144.22 L502.23,148.98"/>
<path class="tk" d="M456.99,149.41 L457.41,154.19"/>
<path class="tk" d="M513.96,170.41 L513.54,175.19"/>
<path class="tk" d="M546.38,175.60 L546.12,180.40"/>
<path class="tk" d="M591.92,178.94 L591.08,183.66"/>
<path class="tk" d="M546.12,221.80 L546.38,226.60"/>
<path class="tk" d="M513.79,227.81 L514.21,232.59"/>
<path class="tk" d="M578.59,224.52 L580.61,228.88"/>
<path class="tk" d="M592.00,188.60 L592.00,193.40"/>
<path class="tk" d="M592.00,208.60 L592.00,213.40"/>
<path class="tk" d="M584.33,121.62 L583.67,126.38"/>
<path class="tk" d="M594.90,123.10 L594.90,127.90"/>
<path class="tk" d="M604.87,121.62 L605.53,126.38"/>
<path class="tk" d="M583.83,168.62 L583.17,173.38"/>
<path class="tk" d="M594.50,166.60 L594.50,171.40"/>
<path class="tk" d="M605.17,168.62 L605.83,173.38"/>
<path class="tk" d="M626.00,98.80 L622.00,98.80"/>
<path class="tk" d="M637.20,98.80 L633.20,98.80"/>
<path class="tk" d="M654.50,101.80 L650.50,101.80"/>
<path class="tk" d="M665.80,101.80 L661.80,101.80"/>
<path class="tk" d="M503.30,326.30 L506.70,329.70"/>
<path class="tk" d="M525.42,308.80 L529.58,311.20"/>
<path class="tk" d="M532.40,296.25 L527.60,296.25"/>
<path class="tk" d="M524.84,283.46 L521.16,286.54"/>
<path class="tk" d="M503.70,272.92 L501.30,277.08"/>
<path class="tk" d="M632.63,270.23 L629.87,274.17"/>
<path class="tk" d="M657.86,291.08 L653.34,292.72"/>
<path class="tk" d="M659.86,307.32 L655.14,306.48"/>
<path class="tk" d="M648.30,314.55 L651.70,317.95"/>
<path class="tk" d="M630.05,325.42 L632.45,329.58"/>
<path class="tk" d="M253.92,409.31 L253.58,414.09"/>
<path class="tk" d="M314.47,416.21 L314.13,420.99"/>
<path class="tk" d="M321.27,416.61 L320.93,421.39"/>
<path class="tk" d="M324.17,416.81 L323.83,421.59"/>
<path class="tk" d="M329.33,417.12 L328.67,421.88"/>
<path class="tk" d="M354.77,432.96 L352.23,437.04"/>
<path class="tk" d="M381.01,448.82 L378.99,453.18"/>
<path class="tk" d="M404.92,458.34 L404.08,463.06"/>
<path class="tk" d="M290.29,481.81 L290.71,486.59"/>
<path class="tk" d="M323.10,476.70 L323.10,481.50"/>
<path class="tk" d="M356.93,477.92 L356.27,482.68"/>
<path class="tk" d="M403.71,486.61 L403.29,491.39"/>
<path class="tk" d="M293.97,503.81 L293.63,508.59"/>
<path class="tk" d="M326.33,509.12 L325.67,513.88"/>
<path class="tk" d="M364.58,532.80 L360.42,535.20"/>
<path class="tk" d="M293.39,582.11 L293.81,586.89"/>
<path class="tk" d="M325.79,576.71 L326.21,581.49"/>
<path class="tk" d="M295.55,609.61 L295.05,614.39"/>
<path class="tk" d="M327.85,613.41 L327.35,618.19"/>
<path class="tk" d="M295.05,679.41 L295.55,684.19"/>
<path class="tk" d="M327.35,675.11 L327.85,679.89"/>
<path class="tk" d="M175.30,646.80 L171.30,646.80"/>
<path class="tk" d="M182.40,646.80 L178.40,646.80"/>
<path class="tk" d="M400.92,498.94 L400.08,503.66"/>
<path class="tk" d="M411.30,501.00 L411.30,505.80"/>
<path class="tk" d="M422.58,498.94 L423.42,503.66"/>
<path class="tk" d="M400.08,553.24 L400.92,557.96"/>
<path class="tk" d="M411.30,551.80 L411.30,556.60"/>
<path class="tk" d="M423.42,553.24 L422.58,557.96"/>
<path class="tk" d="M512.03,408.30 L511.77,413.10"/>
<path class="tk" d="M572.45,414.01 L571.95,418.79"/>
<path class="tk" d="M584.32,416.39 L583.48,421.11"/>
<path class="tk" d="M610.03,430.38 L607.77,434.62"/>
<path class="tk" d="M638.01,444.42 L635.99,448.78"/>
<path class="tk" d="M661.67,453.74 L660.83,458.46"/>
<path class="tk" d="M554.41,456.71 L553.99,461.49"/>
<path class="tk" d="M586.25,461.70 L586.25,466.50"/>
<path class="tk" d="M632.42,466.14 L630.78,470.66"/>
<path class="tk" d="M620.66,484.06 L623.74,487.74"/>
<path class="tk" d="M624.54,508.36 L621.46,512.04"/>
<path class="tk" d="M618.60,533.12 L621.00,537.28"/>
<path class="tk" d="M586.46,529.11 L586.04,533.89"/>
<path class="tk" d="M553.19,535.01 L553.61,539.79"/>
<path class="tk" d="M656.18,536.14 L657.02,540.86"/>
<path class="tk" d="M630.59,546.22 L632.61,550.58"/>
<path class="tk" d="M602.31,561.16 L604.49,565.44"/>
<path class="tk" d="M578.38,574.14 L580.02,578.66"/>
<path class="tk" d="M566.49,575.41 L566.91,580.19"/>
<path class="tk" d="M664.61,612.41 L664.19,617.19"/>
<path class="tk" d="M649.83,549.22 L649.17,553.98"/>
<path class="tk" d="M659.70,550.90 L659.70,555.70"/>
<path class="tk" d="M670.27,549.22 L670.93,553.98"/>
<path class="tk" d="M649.17,603.12 L649.83,607.88"/>
<path class="tk" d="M659.70,601.80 L659.70,606.60"/>
<path class="tk" d="M670.93,603.12 L670.27,607.88"/>
<path class="tk" d="M773.86,419.08 L769.34,420.72"/>
<path class="tk" d="M803.54,440.16 L799.86,443.24"/>
<path class="tk" d="M808.96,452.18 L804.24,453.02"/>
<path class="tk" d="M802.14,465.48 L806.66,467.12"/>
<path class="tk" d="M774.16,490.46 L777.24,494.14"/>
<path class="tk" d="M800.54,516.36 L797.46,520.04"/>
<path class="tk" d="M831.18,541.79 L826.82,543.81"/>
<path class="tk" d="M834.10,556.50 L829.30,556.50"/>
<path class="tk" d="M822.82,567.60 L826.98,570.00"/>
<path class="tk" d="M794.66,588.76 L797.74,592.44"/>
<path class="tk" d="M370.20,607.52 L372.60,611.68"/>
<path class="tk" d="M398.29,596.71 L398.71,601.49"/>
<path class="tk" d="M400.29,596.71 L400.71,601.49"/>
<path class="tk" d="M415.10,647.40 L410.30,647.40"/>
<path class="tk" d="M399.71,692.41 L399.29,697.19"/>
<path class="tk" d="M401.71,692.41 L401.29,697.19"/>
<path class="tk" d="M372.60,683.12 L370.20,687.28"/>
<path class="tk" d="M514.57,689.20 L514.83,694.00"/>
<path class="tk" d="M551.21,616.61 L550.79,621.39"/>
<path class="tk" d="M584.03,622.30 L583.77,627.10"/>
<path class="tk" d="M616.57,620.12 L617.23,624.88"/>
<path class="tk" d="M664.53,611.70 L664.27,616.50"/>
<path class="tk" d="M665.48,639.94 L666.32,644.66"/>
<path class="tk" d="M639.99,650.32 L642.01,654.68"/>
<path class="tk" d="M612.70,666.52 L615.10,670.68"/>
<path class="tk" d="M588.98,681.04 L590.62,685.56"/>
<path class="tk" d="M585.19,682.01 L585.61,686.79"/>
<path class="tk" d="M581.49,682.31 L581.91,687.09"/>
<path class="tk" d="M574.19,683.11 L574.61,687.89"/>
<path class="tk" d="M112.00,697.10 L112.00,701.90"/>
<path class="tk" d="M149.50,452.60 L149.50,457.40"/>
<path class="tk" d="M306.50,87.90 L306.50,91.10"/>
<path class="tk" d="M312.40,87.90 L312.40,91.10"/>
<path class="tk" d="M324.00,543.60 L324.00,546.80"/>
<path class="tk" d="M329.50,543.60 L329.50,546.80"/>
<path class="tk" d="M583.90,496.40 L583.90,499.60"/>
<path class="tk" d="M589.40,496.40 L589.40,499.60"/>
<path class="tk" d="M622.80,210.80 L619.20,210.80"/>
<path class="tk" d="M631.60,210.80 L628.00,210.80"/>
<path class="tk" d="M622.80,231.80 L619.20,231.80"/>
<path class="tk" d="M637.80,213.90 L634.20,213.90"/>
<path class="tk" d="M646.10,213.90 L642.50,213.90"/>
<path class="tk" d="M637.80,234.90 L634.20,234.90"/>
<path class="tk" d="M693.50,644.40 L689.50,644.40"/>
<path class="tk" d="M704.80,644.40 L700.80,644.40"/>
<path class="tk" d="M716.80,644.40 L712.80,644.40"/>
<path class="tk" d="M729.20,644.40 L725.20,644.40"/>
<path class="tk" d="M741.40,647.50 L737.40,647.50"/>
<path class="tk" d="M751.50,647.50 L747.50,647.50"/>
<path class="tk" d="M767.20,647.50 L763.60,647.50"/>
<path class="tk" d="M775.00,647.50 L771.40,647.50"/>
<path class="tk" d="M767.20,674.80 L763.60,674.80"/>
<path class="tk" d="M784.30,648.30 L780.70,648.30"/>
<path class="tk" d="M792.30,648.30 L788.70,648.30"/>
<path class="tk" d="M784.30,675.60 L780.70,675.60"/>
<path class="tk" d="M862.93,161.92 L862.27,166.68"/>
<path class="tk" d="M875.82,164.14 L874.18,168.66"/>
<path class="tk" d="M901.09,177.16 L898.91,181.44"/>
<path class="tk" d="M929.40,191.27 L927.60,195.73"/>
<path class="tk" d="M945.63,196.22 L944.97,200.98"/>
<path class="tk" d="M741.83,188.32 L741.17,193.08"/>
<path class="tk" d="M752.20,189.80 L752.20,194.60"/>
<path class="tk" d="M762.67,188.32 L763.33,193.08"/>
<path class="tk" d="M741.17,235.92 L741.83,240.68"/>
<path class="tk" d="M752.20,234.40 L752.20,239.20"/>
<path class="tk" d="M763.33,235.92 L762.67,240.68"/>
<path class="l" d="M102.30,192.00 L116.25,192.00"/><path class="ar" d="M97.50,192.00 L102.30,194.30 L102.30,189.70 Z"/>
<path class="l" d="M151.05,80.00 L160.00,80.00"/><path class="ar" d="M146.25,80.00 L151.05,82.30 L151.05,77.70 Z"/>
<path class="l" d="M188.55,89.50 L346.00,89.50"/><path class="ar" d="M183.75,89.50 L188.55,91.80 L188.55,87.20 Z"/>
<path class="l" d="M148.95,248.75 L135.00,248.75"/><path class="ar" d="M153.75,248.75 L148.95,246.45 L148.95,251.05 Z"/>
<path class="l" d="M198.55,149.50 L287.50,149.50"/><path class="ar" d="M193.75,149.50 L198.55,151.80 L198.55,147.20 Z"/>
<path class="l" d="M202.30,212.00 L333.75,212.00"/><path class="ar" d="M197.50,212.00 L202.30,214.30 L202.30,209.70 Z"/>
<path class="l" d="M228.55,288.75 L382.50,288.75"/><path class="ar" d="M223.75,288.75 L228.55,291.05 L228.55,286.45 Z"/>
<path class="l" d="M418.55,82.00 L550.00,82.00"/><path class="ar" d="M413.75,82.00 L418.55,84.30 L418.55,79.70 Z"/>
<path class="l" d="M407.30,147.00 L500.00,147.00"/><path class="ar" d="M402.50,147.00 L407.30,149.30 L407.30,144.70 Z"/>
<path class="l" d="M426.05,201.25 L585.30,201.25"/><path class="ar" d="M421.25,201.25 L426.05,203.55 L426.05,198.95 Z"/>
<path class="l" d="M416.80,303.00 L512.50,303.00"/><path class="ar" d="M412.00,303.00 L416.80,305.30 L416.80,300.70 Z"/>
<path class="l" d="M544.20,299.70 L640.60,299.70"/><path class="ar" d="M539.40,299.70 L544.20,302.00 L544.20,297.40 Z"/>
<path class="l" d="M600.40,147.25 L610.60,147.25"/><path class="ar" d="M595.60,147.25 L600.40,149.55 L600.40,144.95 Z"/>
<path class="l" d="M630.55,83.20 L637.60,83.20"/><path class="ar" d="M625.75,83.20 L630.55,85.50 L630.55,80.90 Z"/>
<path class="l" d="M658.20,98.00 L651.00,98.00"/><path class="ar" d="M663.00,98.00 L658.20,95.70 L658.20,100.30 Z"/>
<path class="l" d="M626.80,206.00 L630.00,206.00"/><path class="ar" d="M622.00,206.00 L626.80,208.30 L626.80,203.70 Z"/>
<path class="l" d="M640.80,208.00 L645.00,208.00"/><path class="ar" d="M636.00,208.00 L640.80,210.30 L640.80,205.70 Z"/>
<path class="l" d="M663.00,219.00 L656.60,219.00"/><path class="ar" d="M667.80,219.00 L663.00,216.70 L663.00,221.30 Z"/>
<path class="l" d="M768.50,164.77 L818.00,166.50"/><path class="ar" d="M763.70,164.60 L768.42,167.07 L768.58,162.47 Z"/>
<path class="l" d="M757.80,214.80 L766.50,214.80"/><path class="ar" d="M753.00,214.80 L757.80,217.10 L757.80,212.50 Z"/>
<path class="l" d="M810.20,238.80 L805.50,238.80"/><path class="ar" d="M815.00,238.80 L810.20,236.50 L810.20,241.10 Z"/>
<path class="l" d="M838.70,238.80 L834.50,238.80"/><path class="ar" d="M843.50,238.80 L838.70,236.50 L838.70,241.10 Z"/>
<path class="l" d="M860.30,240.50 L864.00,240.50"/><path class="ar" d="M855.50,240.50 L860.30,242.80 L860.30,238.20 Z"/>
<path class="l" d="M873.80,240.50 L877.50,240.50"/><path class="ar" d="M869.00,240.50 L873.80,242.80 L873.80,238.20 Z"/>
<path class="l" d="M783.10,229.20 L785.00,229.20"/><path class="ar" d="M778.30,229.20 L783.10,231.50 L783.10,226.90 Z"/>
<path class="l" d="M107.30,508.00 L121.25,508.00"/><path class="ar" d="M102.50,508.00 L107.30,510.30 L107.30,505.70 Z"/>
<path class="l" d="M153.95,607.00 L140.50,607.00"/><path class="ar" d="M158.75,607.00 L153.95,604.70 L153.95,609.30 Z"/>
<path class="l" d="M218.55,455.00 L347.50,455.00"/><path class="ar" d="M213.75,455.00 L218.55,457.30 L218.55,452.70 Z"/>
<path class="l" d="M206.05,545.00 L362.50,545.00"/><path class="ar" d="M201.25,545.00 L206.05,547.30 L206.05,542.70 Z"/>
<path class="l" d="M247.30,641.25 L402.50,641.25"/><path class="ar" d="M242.50,641.25 L247.30,643.55 L247.30,638.95 Z"/>
<path class="l" d="M416.05,524.50 L422.50,524.50"/><path class="ar" d="M411.25,524.50 L416.05,526.80 L416.05,522.20 Z"/>
<path class="l" d="M476.05,419.50 L567.50,419.50"/><path class="ar" d="M471.25,419.50 L476.05,421.80 L476.05,417.20 Z"/>
<path class="l" d="M467.30,498.00 L623.75,498.00"/><path class="ar" d="M462.50,498.00 L467.30,500.30 L467.30,495.70 Z"/>
<path class="l" d="M471.05,575.00 L563.75,575.00"/><path class="ar" d="M466.25,575.00 L471.05,577.30 L471.05,572.70 Z"/>
<path class="l" d="M479.30,648.25 L608.75,648.25"/><path class="ar" d="M474.50,648.25 L479.30,650.55 L479.30,645.95 Z"/>
<path class="l" d="M692.30,458.75 L790.00,458.75"/><path class="ar" d="M687.50,458.75 L692.30,461.05 L692.30,456.45 Z"/>
<path class="l" d="M717.30,551.75 L813.75,551.75"/><path class="ar" d="M712.50,551.75 L717.30,554.05 L717.30,549.45 Z"/>
<path class="l" d="M666.05,582.80 L674.50,582.80"/><path class="ar" d="M661.25,582.80 L666.05,585.10 L666.05,580.50 Z"/>
<path class="l" d="M698.95,641.75 L690.00,641.75"/><path class="ar" d="M703.75,641.75 L698.95,639.45 L698.95,644.05 Z"/>
<path class="l" d="M723.95,641.25 L715.00,641.25"/><path class="ar" d="M728.75,641.25 L723.95,638.95 L723.95,643.55 Z"/>
<path class="l" d="M745.80,632.00 L752.00,632.00"/><path class="ar" d="M741.00,632.00 L745.80,634.30 L745.80,629.70 Z"/>
<path class="l" d="M770.80,645.50 L774.00,645.50"/><path class="ar" d="M766.00,645.50 L770.80,647.80 L770.80,643.20 Z"/>
<path class="l" d="M788.30,646.00 L791.00,646.00"/><path class="ar" d="M783.50,646.00 L788.30,648.30 L788.30,643.70 Z"/>
<text class="t" transform="translate(107.5,169.4)" x="0" y="4.42" text-anchor="middle" font-size="13.4">42</text>
<text class="t" transform="translate(150,72) rotate(-90)" x="0" y="4.42" text-anchor="middle" font-size="13.4">42</text>
<text class="t" transform="translate(333,73)" x="0" y="4.42" text-anchor="middle" font-size="13.4">42</text>
<text class="t" transform="translate(142.5,275) rotate(180)" x="0" y="4.42" text-anchor="middle" font-size="13.4">42</text>
<text class="t" transform="translate(247,149.4)" x="0" y="4.42" text-anchor="middle" font-size="13.4">42</text>
<text class="t" transform="translate(303,128)" x="0" y="4.42" text-anchor="middle" font-size="13.4">42</text>
<text class="t" transform="translate(247.5,203)" x="0" y="4.42" text-anchor="middle" font-size="13.4">42</text>
<text class="t" transform="translate(355.5,278)" x="0" y="4.42" text-anchor="middle" font-size="13.4">42</text>
<text class="t" transform="translate(463.5,83.75)" x="0" y="4.42" text-anchor="middle" font-size="13.4">42</text>
<text class="t" transform="translate(457,141.9)" x="0" y="4.42" text-anchor="middle" font-size="13.4">42</text>
<text class="t" transform="translate(571.7,211.1)" x="0" y="4.42" text-anchor="middle" font-size="13.4">42</text>
<text class="t" transform="translate(471.6,298.1)" x="0" y="4.42" text-anchor="middle" font-size="13.4">42</text>
<text class="t" transform="translate(599.8,298.5)" x="0" y="4.42" text-anchor="middle" font-size="13.4">42</text>
<text class="t" transform="translate(606.7,155) rotate(90)" x="0" y="4.42" text-anchor="middle" font-size="13.4">42</text>
<text class="t" transform="translate(636.7,79.7) rotate(90)" x="0" y="4.42" text-anchor="middle" font-size="13.4">42</text>
<text class="t" transform="translate(659.1,76.2) rotate(-90)" x="0" y="4.42" text-anchor="middle" font-size="13.4">42</text>
<text class="t" transform="translate(625.5,192.7) rotate(90)" x="0" y="4.42" text-anchor="middle" font-size="13.4">42</text>
<text class="t" transform="translate(640,194.5) rotate(90)" x="0" y="4.42" text-anchor="middle" font-size="13.4">42</text>
<text class="t" transform="translate(663.1,200.8) rotate(-90)" x="0" y="4.42" text-anchor="middle" font-size="13.4">42</text>
<text class="t" transform="translate(552.5,248)" x="0" y="5.78" text-anchor="middle" font-size="17.5" style="stroke-width:0.1">Jahel</text>
<text class="t" transform="translate(818.2,163.3)" x="0" y="4.42" text-anchor="middle" font-size="13.4">4Ø</text>
<text class="t" transform="translate(799.5,175.5)" x="0" y="4.42" text-anchor="middle" font-size="13.4">4Ø</text>
<text class="t" transform="translate(756,209) rotate(-90)" x="0" y="4.42" text-anchor="middle" font-size="13.4">4Ø</text>
<text class="t" transform="translate(811,223.2) rotate(-90)" x="0" y="4.42" text-anchor="middle" font-size="13.4">4Ø</text>
<text class="t" transform="translate(839.6,219.8) rotate(-90)" x="0" y="4.42" text-anchor="middle" font-size="13.4">4Ø</text>
<text class="t" transform="translate(858,227) rotate(90)" x="0" y="4.42" text-anchor="middle" font-size="13.4">4Ø</text>
<text class="t" transform="translate(871.7,227) rotate(90)" x="0" y="4.42" text-anchor="middle" font-size="13.4">4Ø</text>
<text class="t" transform="translate(787.4,225.2) rotate(90)" x="0" y="4.42" text-anchor="middle" font-size="13.4">4Ø</text>
<text class="t" transform="translate(113,485)" x="0" y="4.42" text-anchor="middle" font-size="13.4">5Ø</text>
<text class="t" transform="translate(148,633.75) rotate(180)" x="0" y="4.42" text-anchor="middle" font-size="13.4">5Ø</text>
<text class="t" transform="translate(263.5,446.5)" x="0" y="4.42" text-anchor="middle" font-size="13.4">5Ø</text>
<text class="t" transform="translate(350.6,529.4)" x="0" y="4.42" text-anchor="middle" font-size="13.4">5Ø</text>
<text class="t" transform="translate(375,630.5)" x="0" y="4.42" text-anchor="middle" font-size="13.4">5Ø</text>
<text class="t" transform="translate(423.2,532) rotate(90)" x="0" y="4.42" text-anchor="middle" font-size="13.4">5Ø</text>
<text class="t" transform="translate(439.6,429.3)" x="0" y="4.42" text-anchor="middle" font-size="13.4">5Ø</text>
<text class="t" transform="translate(524.4,418.1)" x="0" y="4.42" text-anchor="middle" font-size="13.4">5Ø</text>
<text class="t" transform="translate(611.25,507.5)" x="0" y="4.42" text-anchor="middle" font-size="13.4">5Ø</text>
<text class="t" transform="translate(520,570)" x="0" y="4.42" text-anchor="middle" font-size="13.4">5Ø</text>
<text class="t" transform="translate(523.5,650)" x="0" y="4.42" text-anchor="middle" font-size="13.4">5Ø</text>
<text class="t" transform="translate(748.5,453.25)" x="0" y="4.42" text-anchor="middle" font-size="13.4">5Ø</text>
<text class="t" transform="translate(772.5,550.5)" x="0" y="4.42" text-anchor="middle" font-size="13.4">5Ø</text>
<text class="t" transform="translate(664,575.8) rotate(-90)" x="0" y="4.42" text-anchor="middle" font-size="13.4">5Ø</text>
<text class="t" transform="translate(699.4,620) rotate(-90)" x="0" y="4.42" text-anchor="middle" font-size="13.4">5Ø</text>
<text class="t" transform="translate(722.5,622.5) rotate(-90)" x="0" y="4.42" text-anchor="middle" font-size="13.4">5Ø</text>
<text class="t" transform="translate(750,627.5) rotate(90)" x="0" y="4.42" text-anchor="middle" font-size="13.4">5Ø</text>
<text class="t" transform="translate(768.6,635) rotate(90)" x="0" y="4.42" text-anchor="middle" font-size="13.4">5Ø</text>
<text class="t" transform="translate(786,635) rotate(90)" x="0" y="4.42" text-anchor="middle" font-size="13.4">5Ø</text>
<text class="t" font-size="13" transform="translate(188,365) scale(1.18,1)" textLength="197.46" lengthAdjust="spacing" style="stroke-width:0.4">Stoffverbrauch Gr. 34-42= 2.8Øm</text>
<text class="t" font-size="13" transform="translate(187.5,724.5) scale(1.18,1)" textLength="197.46" lengthAdjust="spacing" style="stroke-width:0.4">Stoffverbrauch Gr. 44-5Ø= 3.5Øm</text>
<text class="t" font-size="13" transform="translate(739.8,260.6) scale(1.18,1)" textLength="209.32" lengthAdjust="spacing" style="stroke-width:0.4">Einlageverbrauch Gr. 34-5Ø= 1.2Øm</text>
<text class="t" font-size="13" transform="translate(70.5,88.8) rotate(90) scale(1.18,1)" textLength="107.63" lengthAdjust="spacing" style="stroke-width:0.4">Stoffbreite 1.4Øm</text>
<text class="t" font-size="13" transform="translate(73.4,449.4) rotate(90) scale(1.18,1)" textLength="107.63" lengthAdjust="spacing" style="stroke-width:0.4">Stoffbreite 1.4Øm</text>
<text class="t" font-size="12.5" transform="translate(717,153.5) rotate(90) scale(1.04,1)" textLength="95.19" lengthAdjust="spacing" style="stroke-width:0.4">Einlage Ø.9Øcm</text>
<text class="t" font-size="12.5" transform="translate(706,153.5) rotate(90) scale(1.04,1)" textLength="56.25" lengthAdjust="spacing" style="stroke-width:0.4">1m Bruch</text>
<text class="t" font-size="12.5" transform="translate(900,241) scale(1.1,1)" textLength="47.27" lengthAdjust="spacing" style="stroke-width:0.4">Umbruch</text>
</svg></body></html>
